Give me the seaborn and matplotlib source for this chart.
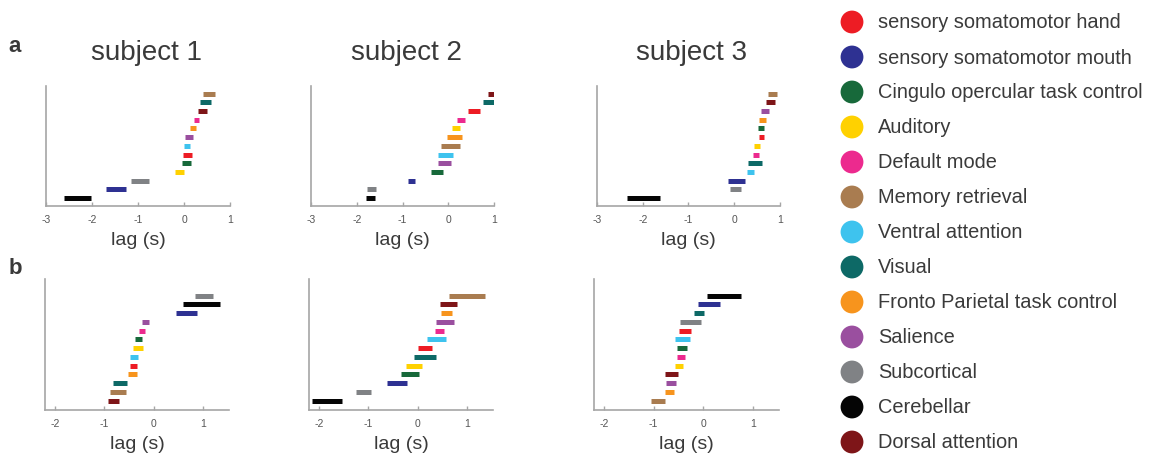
import numpy as np
import pandas as pd
import seaborn as sns
import matplotlib.pyplot as plt

# network keys, legend labels and colours
net_keys = ['hand', 'mouth', 'cingulo', 'aud', 'dmn', 'mem', 'van', 'vis', 'fpn', 'sal', 'sub', 'cer', 'dan']
net_labels = ['sensory somatomotor hand', 'sensory somatomotor mouth', 'Cingulo opercular task control',
              'Auditory', 'Default mode', 'Memory retrieval', 'Ventral attention', 'Visual',
              'Fronto Parietal task control', 'Salience', 'Subcortical', 'Cerebellar', 'Dorsal attention']
net_colors = ['#ED1C24', '#2E3192', '#17693A', '#FFD100', '#EC2A8E', '#A97C50', '#3EC3EE', '#0D6966',
              '#F7941D', '#9A4F9F', '#808285', '#050505', '#7E1518']

# row a, rows listed bottom to top: start and end of lag interval (s)
a1_order = ['cer', 'mouth', 'sub', 'aud', 'cingulo', 'hand', 'van', 'sal', 'fpn', 'dmn', 'dan', 'vis', 'mem']
a1_lo = [-2.60, -1.70, -1.16, -0.20, -0.04, -0.03, 0.01, 0.03, 0.12, 0.21, 0.30, 0.35, 0.41]
a1_hi = [-2.02, -1.27, -0.76, 0.01, 0.16, 0.18, 0.14, 0.20, 0.25, 0.32, 0.50, 0.59, 0.67]

a2_order = ['cer', 'sub', 'mouth', 'cingulo', 'sal', 'van', 'mem', 'fpn', 'aud', 'dmn', 'hand', 'vis', 'dan']
a2_lo = [-1.80, -1.78, -0.89, -0.37, -0.22, -0.23, -0.16, -0.03, 0.09, 0.20, 0.43, 0.75, 0.86]
a2_hi = [-1.60, -1.57, -0.72, -0.11, 0.06, 0.10, 0.26, 0.30, 0.26, 0.37, 0.69, 1.02, 1.02]

a3_order = ['cer', 'sub', 'mouth', 'van', 'vis', 'dmn', 'aud', 'hand', 'cingulo', 'fpn', 'sal', 'dan', 'mem']
a3_lo = [-2.35, -0.10, -0.13, 0.28, 0.30, 0.41, 0.44, 0.54, 0.53, 0.54, 0.59, 0.70, 0.74]
a3_hi = [-1.63, 0.14, 0.24, 0.44, 0.60, 0.54, 0.57, 0.65, 0.65, 0.70, 0.77, 0.89, 0.93]

# row b
b1_order = ['dan', 'mem', 'vis', 'fpn', 'hand', 'van', 'aud', 'cingulo', 'dmn', 'sal', 'mouth', 'cer', 'sub']
b1_lo = [-0.93, -0.88, -0.83, -0.52, -0.47, -0.47, -0.42, -0.37, -0.29, -0.24, 0.46, 0.59, 0.84]
b1_hi = [-0.71, -0.55, -0.54, -0.34, -0.33, -0.31, -0.21, -0.23, -0.18, -0.10, 0.89, 1.34, 1.21]

b2_order = ['cer', 'sub', 'mouth', 'cingulo', 'aud', 'vis', 'hand', 'van', 'dmn', 'sal', 'fpn', 'dan', 'mem']
b2_lo = [-2.14, -1.24, -0.61, -0.34, -0.23, -0.07, 0.01, 0.20, 0.36, 0.38, 0.47, 0.46, 0.63]
b2_hi = [-1.53, -0.94, -0.21, 0.03, 0.10, 0.37, 0.30, 0.57, 0.53, 0.74, 0.69, 0.80, 1.36]

b3_order = ['mem', 'fpn', 'sal', 'dan', 'aud', 'dmn', 'cingulo', 'van', 'hand', 'sub', 'vis', 'mouth', 'cer']
b3_lo = [-1.05, -0.76, -0.74, -0.77, -0.57, -0.53, -0.53, -0.56, -0.48, -0.46, -0.19, -0.10, 0.07]
b3_hi = [-0.77, -0.59, -0.55, -0.51, -0.41, -0.36, -0.33, -0.26, -0.24, -0.05, 0.02, 0.35, 0.77]

subject_titles = ['subject 1', 'subject 2', 'subject 3']
a_ticks = [-3, -2, -1, 0, 1]
b_ticks = [-2, -1, 0, 1]

sns.set_theme(style='ticks')
plt.rcParams['font.family'] = ['Liberation Sans', 'DejaVu Sans']

W, H = 1153, 456
fig = plt.figure(figsize=(W / 100, H / 100), dpi=100)
palette = dict(zip(net_keys, net_colors))
text_col = '#3a3a3a'
spine_col = '#a6a6a6'


def px_axes(left, top, right, bottom):
    return fig.add_axes([left / W, 1 - bottom / H, (right - left) / W, (bottom - top) / H])


def draw_panel(ax, order, lo, hi, xlim, xticks, ylim):
    n = len(order)
    df = pd.DataFrame({'net': order * 2, 'row': list(range(n)) * 2, 'lag': lo + hi})
    sns.lineplot(data=df, x='lag', y='row', hue='net', units='net', estimator=None,
                 palette=palette, legend=False, lw=3.6, sort=False, ax=ax,
                 solid_capstyle='butt')
    ax.set_xlim(*xlim)
    ax.set_ylim(*ylim)
    ax.set_xticks(xticks)
    ax.set_xticklabels([str(t) for t in xticks])
    ax.set_yticks([])
    ax.set_ylabel('')
    ax.set_xlabel('lag (s)', fontsize=14, color=text_col, labelpad=5)
    ax.tick_params(axis='x', direction='in', length=3, width=1, color=spine_col,
                   labelsize=7.5, labelcolor='#555555', pad=6)
    sns.despine(ax=ax)
    for s in ['left', 'bottom']:
        ax.spines[s].set_color(spine_col)
        ax.spines[s].set_linewidth(1.2)


a_boxes = [(46, 87, 230, 206.5), (311, 87, 494, 206.5), (597, 87, 780, 206.5)]
b_boxes = [(45, 280, 229, 410.7), (309, 280, 493, 410.7), (594, 280, 779, 410.7)]
a_data = [(a1_order, a1_lo, a1_hi), (a2_order, a2_lo, a2_hi), (a3_order, a3_lo, a3_hi)]
b_data = [(b1_order, b1_lo, b1_hi), (b2_order, b2_lo, b2_hi), (b3_order, b3_lo, b3_hi)]

for box, (o, lo, hi) in zip(a_boxes, a_data):
    ax = px_axes(*box)
    draw_panel(ax, o, lo, hi, (-3, 1), a_ticks, (-0.86, 12.88))
for box, (o, lo, hi) in zip(b_boxes, b_data):
    ax = px_axes(*box)
    draw_panel(ax, o, lo, hi, (-2.2, 1.53), b_ticks, (-1.03, 13.9))

# titles and panel letters
for x, t in zip([146, 406, 692], subject_titles):
    fig.text(x / W, 1 - 53 / H, t, fontsize=20, color=text_col, ha='center', va='center')
fig.text(15 / W, 1 - 46 / H, 'a', fontsize=16, fontweight='bold', color=text_col, ha='center', va='center')
fig.text(15 / W, 1 - 269 / H, 'b', fontsize=16, fontweight='bold', color=text_col, ha='center', va='center')

# legend drawn as circles + labels
lax = fig.add_axes([0, 0, 1, 1])
lax.set_xlim(0, W)
lax.set_ylim(H, 0)
lax.axis('off')
ys = 23 + 35 * np.arange(len(net_keys))
lax.scatter(np.full(len(ys), 852), ys, s=270, c=net_colors, linewidths=0)
for y, lab in zip(ys, net_labels):
    lax.text(878, y, lab, fontsize=14.4, color=text_col, va='center', ha='left')

fig.savefig('out.png', dpi=100)
